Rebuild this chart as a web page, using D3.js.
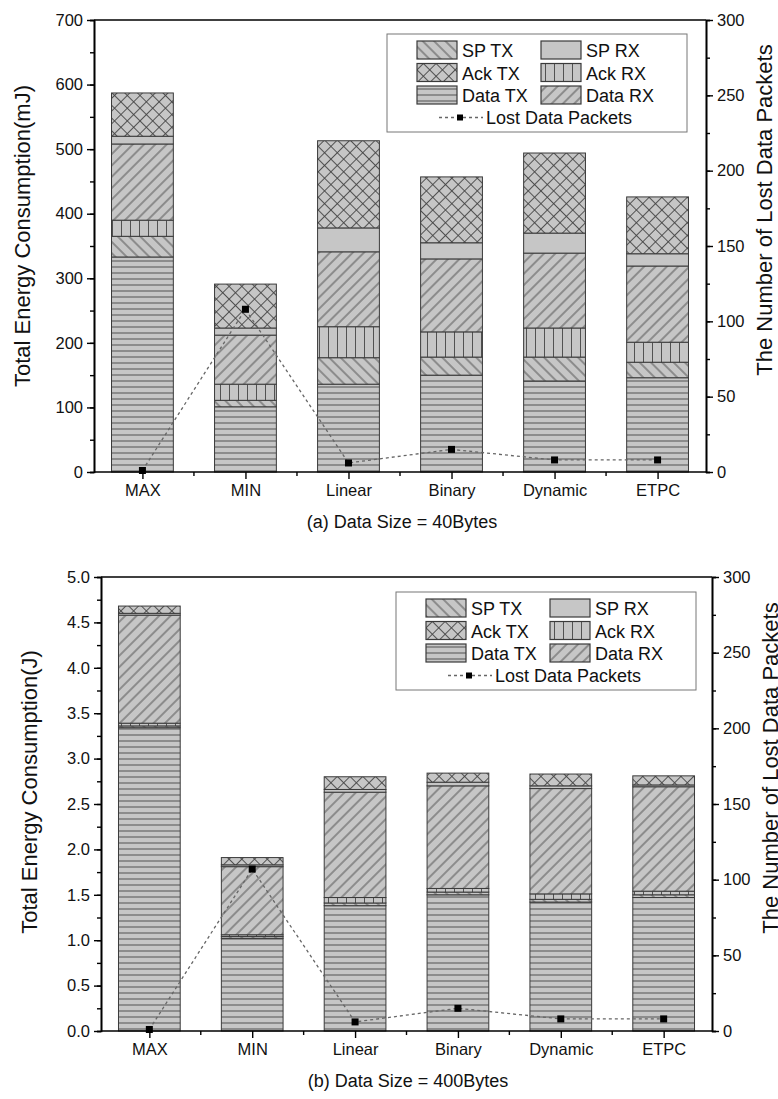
<!DOCTYPE html>
<html>
  <head>
    <title>Energy Consumption</title>
    <script src="https://d3js.org/d3.v7.min.js"></script>
    <style>
      body { margin: 0; background: #fff; }
      svg { display: block; font-family: "Liberation Sans", Arial, sans-serif; }
      .axis .domain { stroke: #000; stroke-width: 1.6px; }
      .axis .tick line { stroke: #000; stroke-width: 1.4px; }
      .axis .tick text { font-size: 16.5px; fill: #111; }
      .axis__label { font-size: 22px; fill: #111; text-anchor: middle; }
      .caption { font-size: 18px; fill: #111; text-anchor: middle; }
      .legend text { font-size: 18px; fill: #111; }
    </style>
  </head>
  <body>
    <svg width="778" height="1099"></svg>
    <script>
      const categories = ["MAX", "MIN", "Linear", "Binary", "Dynamic", "ETPC"];
      // stack order, bottom to top
      const seriesKeys = ["dataTx", "spTx", "ackRx", "dataRx", "spRx", "ackTx"];

      // (a) 40 bytes, mJ
      const dataTx40 = [333, 101, 136, 150, 141, 146];
      const spTx40 = [32, 10, 41, 28, 37, 24];
      const ackRx40 = [25, 25, 48, 39, 45, 31];
      const dataRx40 = [118, 76, 116, 113, 116, 118];
      const spRx40 = [12, 11, 37, 25, 31, 19];
      const ackTx40 = [67, 68, 135, 102, 124, 88];
      const lost40 = [1, 108, 6, 15, 8, 8];

      // (b) 400 bytes, J
      const dataTx400 = [3.34, 1.02, 1.38, 1.50, 1.42, 1.47];
      const spTx400 = [0.02, 0.02, 0.03, 0.03, 0.03, 0.03];
      const ackRx400 = [0.03, 0.02, 0.06, 0.04, 0.06, 0.04];
      const dataRx400 = [1.19, 0.75, 1.16, 1.13, 1.16, 1.15];
      const spRx400 = [0.02, 0.02, 0.03, 0.04, 0.03, 0.02];
      const ackTx400 = [0.08, 0.08, 0.14, 0.10, 0.13, 0.10];
      const lost400 = [1, 107, 6, 15, 8, 8];

      const svg = d3.select("svg");
      const fillGray = "#c6c6c6";
      const lineGray = "#454545";

      // hatch patterns
      const defs = svg.append("defs");
      function hatch(id, size, angle, lines) {
        const p = defs.append("pattern")
          .attr("id", id)
          .attr("patternUnits", "userSpaceOnUse")
          .attr("width", size)
          .attr("height", size)
          .attr("patternTransform", `rotate(${angle})`);
        p.append("rect").attr("width", size).attr("height", size).attr("fill", fillGray);
        lines.forEach(l => {
          p.append("line")
            .attr("x1", l[0]).attr("y1", l[1]).attr("x2", l[2]).attr("y2", l[3])
            .attr("stroke", lineGray).attr("stroke-width", 0.9);
        });
      }
      hatch("p-dataTx", 6, 0, [[0, 3, 6, 3]]);
      hatch("p-spTx", 8, -45, [[4, 0, 4, 8]]);
      hatch("p-ackRx", 9, 0, [[4.5, 0, 4.5, 9]]);
      hatch("p-dataRx", 8, 45, [[4, 0, 4, 8]]);
      hatch("p-ackTx", 9, 45, [[4.5, 0, 4.5, 9], [0, 4.5, 9, 4.5]]);
      defs.append("pattern")
        .attr("id", "p-spRx")
        .attr("patternUnits", "userSpaceOnUse")
        .attr("width", 4).attr("height", 4)
        .append("rect").attr("width", 4).attr("height", 4).attr("fill", fillGray);

      const legendItems = [
        {key: "spTx", label: "SP TX"}, {key: "spRx", label: "SP RX"},
        {key: "ackTx", label: "Ack TX"}, {key: "ackRx", label: "Ack RX"},
        {key: "dataTx", label: "Data TX"}, {key: "dataRx", label: "Data RX"}
      ];

      function drawPanel(cfg) {
        const rows = categories.map((c, i) => {
          const r = {category: c, lost: cfg.lost[i]};
          seriesKeys.forEach(k => { r[k] = cfg.series[k][i]; });
          return r;
        });

        const xScale = d3.scalePoint()
          .domain(categories)
          .range([cfg.left, cfg.right])
          .padding(0.47);
        const yScale = d3.scaleLinear().domain([0, cfg.yMax]).range([cfg.bottom, cfg.top]);
        const y2Scale = d3.scaleLinear().domain([0, 300]).range([cfg.bottom, cfg.top]);
        const barWidth = xScale.step() * 0.6;

        const g = svg.append("g");

        // stacked bars
        const stacked = d3.stack().keys(seriesKeys)(rows);
        g.selectAll(".layer")
          .data(stacked)
          .join("g")
            .attr("class", "layer")
            .attr("fill", d => `url(#p-${d.key})`)
          .selectAll("rect")
          .data(d => d)
          .join("rect")
            .attr("x", d => xScale(d.data.category) - barWidth / 2)
            .attr("y", d => yScale(d[1]))
            .attr("width", barWidth)
            .attr("height", d => yScale(d[0]) - yScale(d[1]))
            .attr("stroke", "#3a3a3a")
            .attr("stroke-width", 1);

        // lost packets line
        const line = d3.line()
          .x(d => xScale(d.category))
          .y(d => y2Scale(d.lost));
        g.append("path")
          .datum(rows)
          .attr("d", line)
          .attr("fill", "none")
          .attr("stroke", "#666")
          .attr("stroke-width", 1.3)
          .attr("stroke-dasharray", "3,3");
        g.selectAll(".marker")
          .data(rows)
          .join("rect")
            .attr("class", "marker")
            .attr("x", d => xScale(d.category) - 3.5)
            .attr("y", d => y2Scale(d.lost) - 3.5)
            .attr("width", 7)
            .attr("height", 7)
            .attr("fill", "#000");

        // frame top
        g.append("line")
          .attr("x1", cfg.left).attr("x2", cfg.right)
          .attr("y1", cfg.top).attr("y2", cfg.top)
          .attr("stroke", "#000").attr("stroke-width", 1.6);

        // left axis
        const yMinor = d3.range(0, cfg.yMax + 1e-9, cfg.yStep / 2);
        g.append("g")
          .attr("class", "axis")
          .attr("transform", `translate(${cfg.left},0)`)
          .call(d3.axisLeft(yScale).tickValues(yMinor).tickSize(4).tickFormat(""));
        g.append("g")
          .attr("class", "axis")
          .attr("transform", `translate(${cfg.left},0)`)
          .call(d3.axisLeft(yScale)
            .tickValues(d3.range(0, cfg.yMax + 1e-9, cfg.yStep))
            .tickSize(7).tickSizeOuter(0).tickPadding(4)
            .tickFormat(cfg.yFormat));

        // right axis
        g.append("g")
          .attr("class", "axis")
          .attr("transform", `translate(${cfg.right},0)`)
          .call(d3.axisRight(y2Scale).tickValues(d3.range(0, 301, 25)).tickSize(4).tickFormat(""));
        g.append("g")
          .attr("class", "axis")
          .attr("transform", `translate(${cfg.right},0)`)
          .call(d3.axisRight(y2Scale).tickValues(d3.range(0, 301, 50))
            .tickSize(7).tickSizeOuter(0).tickPadding(4));

        // bottom axis
        const xAxisG = g.append("g")
          .attr("class", "axis")
          .attr("transform", `translate(0,${cfg.bottom})`);
        xAxisG.call(d3.axisBottom(xScale).tickSize(7).tickSizeOuter(0).tickPadding(5));
        xAxisG.select(".domain").attr("d", `M${cfg.left},0H${cfg.right}`);
        const mids = categories.slice(1).map((c, i) => (xScale(categories[i]) + xScale(c)) / 2);
        xAxisG.selectAll(".minor")
          .data(mids)
          .join("line")
            .attr("class", "minor")
            .attr("x1", d => d).attr("x2", d => d)
            .attr("y1", 0).attr("y2", 4)
            .attr("stroke", "#000").attr("stroke-width", 1.4);

        // axis labels
        g.append("text")
          .attr("class", "axis__label")
          .attr("transform", `translate(${cfg.left - 64},${cfg.leftTitleY}) rotate(-90)`)
          .text(cfg.yLabel);
        g.append("text")
          .attr("class", "axis__label")
          .attr("transform", `translate(${cfg.right + 66},${cfg.rightTitleY}) rotate(-90)`)
          .text("The Number of Lost Data Packets");
        g.append("text")
          .attr("class", "caption")
          .attr("x", cfg.captionX)
          .attr("y", cfg.bottom + 56)
          .text(cfg.caption);

        // legend
        const lg = g.append("g")
          .attr("class", "legend")
          .attr("transform", `translate(${cfg.legendX},${cfg.legendY})`);
        lg.append("rect")
          .attr("width", 300).attr("height", 98)
          .attr("fill", "#fff").attr("stroke", "#777").attr("stroke-width", 1);
        const item = lg.selectAll(".item")
          .data(legendItems)
          .join("g")
            .attr("class", "item")
            .attr("transform", (d, i) => `translate(${30 + (i % 2) * 124},${7 + Math.floor(i / 2) * 22.5})`);
        item.append("rect")
          .attr("width", 40).attr("height", 18)
          .attr("fill", d => `url(#p-${d.key})`)
          .attr("stroke", "#3a3a3a").attr("stroke-width", 1.2);
        item.append("text")
          .attr("x", 45).attr("y", 16)
          .text(d => d.label);
        const ly = 7 + 3 * 22.5 + 9;
        lg.append("line")
          .attr("x1", 52).attr("x2", 96)
          .attr("y1", ly).attr("y2", ly)
          .attr("stroke", "#666").attr("stroke-width", 1.3)
          .attr("stroke-dasharray", "3,3");
        lg.append("rect")
          .attr("x", 70).attr("y", ly - 3).attr("width", 6).attr("height", 6)
          .attr("fill", "#000");
        lg.append("text")
          .attr("x", 99).attr("y", ly + 6.5)
          .text("Lost Data Packets");
      }

      drawPanel({
        left: 94, right: 706, top: 20, bottom: 472,
        yMax: 700, yStep: 100, yFormat: d3.format("d"),
        yLabel: "Total Energy Consumption(mJ)",
        leftTitleY: 236, rightTitleY: 210,
        caption: "(a) Data Size = 40Bytes", captionX: 402,
        legendX: 387, legendY: 34,
        series: {dataTx: dataTx40, spTx: spTx40, ackRx: ackRx40, dataRx: dataRx40, spRx: spRx40, ackTx: ackTx40},
        lost: lost40
      });

      drawPanel({
        left: 101, right: 712, top: 577, bottom: 1031,
        yMax: 5, yStep: 0.5, yFormat: d3.format(".1f"),
        yLabel: "Total Energy Consumption(J)",
        leftTitleY: 792, rightTitleY: 768,
        caption: "(b) Data Size = 400Bytes", captionX: 408,
        legendX: 396, legendY: 592,
        series: {dataTx: dataTx400, spTx: spTx400, ackRx: ackRx400, dataRx: dataRx400, spRx: spRx400, ackTx: ackTx400},
        lost: lost400
      });
    </script>
  </body>
</html>
